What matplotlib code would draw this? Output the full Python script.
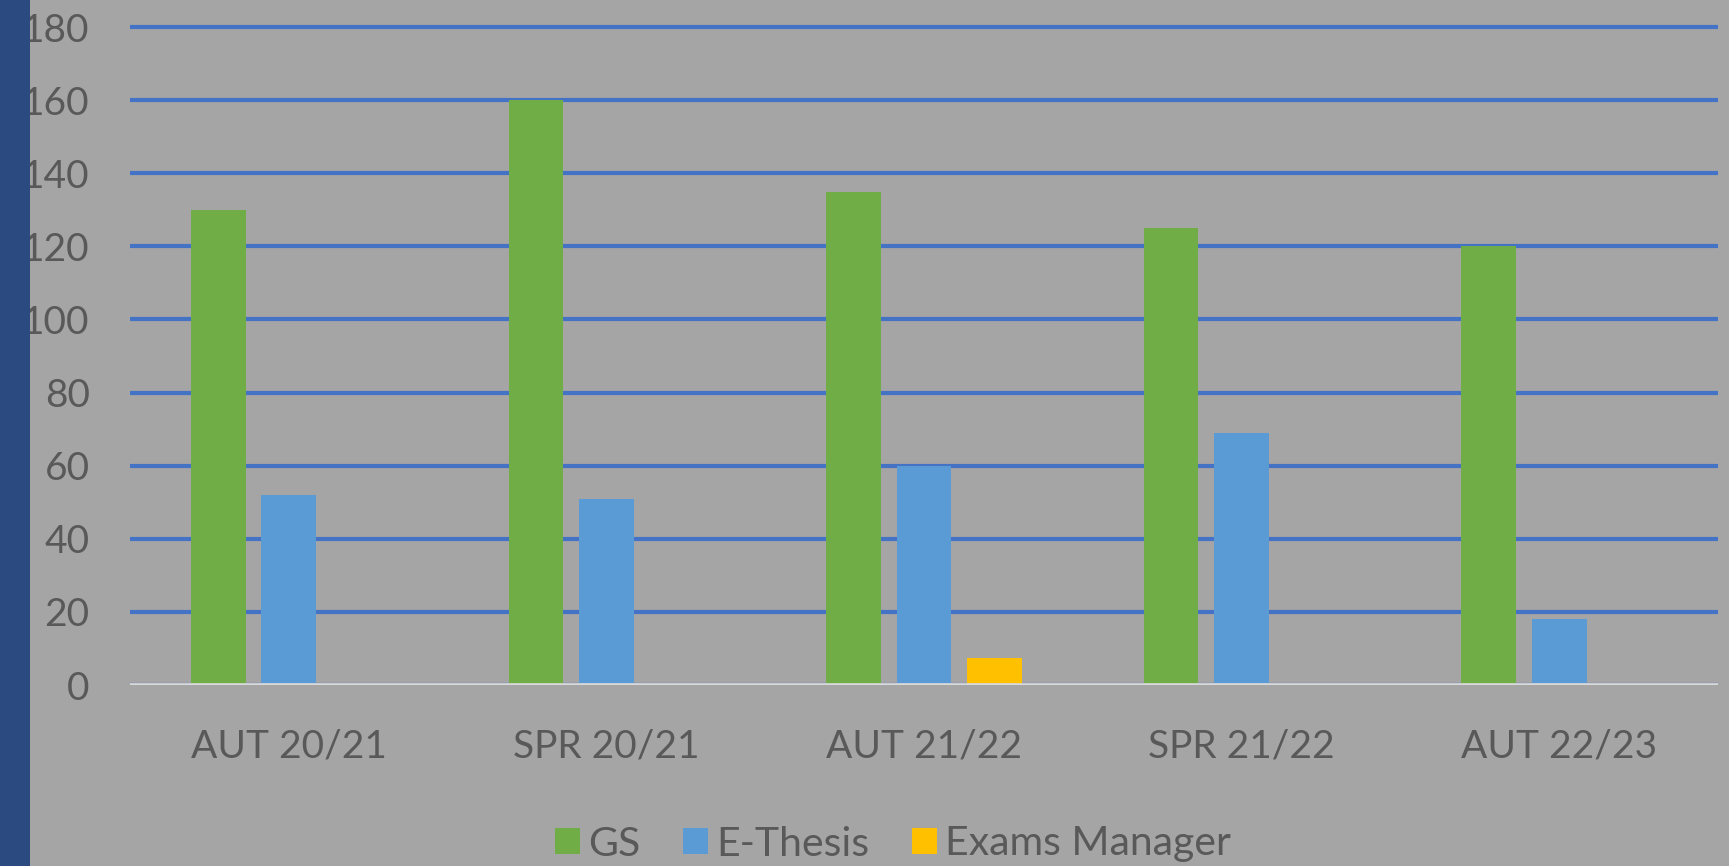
import matplotlib
matplotlib.use("Agg")
import matplotlib.pyplot as plt
import numpy as np
from matplotlib.patches import Rectangle

categories = ["AUT 20/21", "SPR 20/21", "AUT 21/22", "SPR 21/22", "AUT 22/23"]
series_names = ["GS", "E-Thesis", "Exams Manager"]
gs_values = [130, 160, 135, 125, 120]
ethesis_values = [52, 51, 60, 69, 18]
exams_values = [0, 0, 7.5, 0, 0]
y_ticks = [0, 20, 40, 60, 80, 100, 120, 140, 160, 180]

colors = ["#70ad47", "#5b9bd5", "#ffc000"]
bg = "#a5a5a5"
text_color = "#595959"

plt.rcParams['font.family'] = ['Lato', 'DejaVu Sans']

W, H = 1729, 866
fig = plt.figure(figsize=(W / 100, H / 100), dpi=100, facecolor=bg)

# left dark strip
fig.patches.append(Rectangle((0, 0), 30 / W, 1, transform=fig.transFigure,
                             facecolor="#2a4a80", edgecolor="none", zorder=0))

y0_px = 685.0
px_per_unit = (685.0 - 27.0) / 180.0
ytop = 185
top_px = y0_px - ytop * px_per_unit
left_px, right_px = 130, 1718
ax = fig.add_axes([left_px / W, 1 - y0_px / H, (right_px - left_px) / W, (y0_px - top_px) / H])
ax.set_facecolor(bg)

x = np.arange(len(categories))
offsets = [-0.222, 0.0, 0.222]
width = 0.172
for vals, off, col, name in zip([gs_values, ethesis_values, exams_values], offsets, colors, series_names):
    ax.bar(x + off, vals, width=width, color=col, label=name, zorder=2)

ax.set_xlim(-0.5, len(categories) - 0.5)
ax.set_ylim(0, ytop)
ax.set_yticks(y_ticks)
ax.set_xticks(x)
ax.set_xticklabels(categories)
ax.set_axisbelow(True)
ax.yaxis.grid(True, color="#4472c4", linewidth=3.0)
ax.xaxis.grid(False)
ax.axhline(0, color="#d9d9d9", linewidth=3.4, zorder=3)
for s in ax.spines.values():
    s.set_visible(False)
ax.tick_params(axis='y', length=0, pad=29, labelsize=28, labelcolor=text_color)
ax.tick_params(axis='x', length=0, pad=31, labelsize=28, labelcolor=text_color)

handles, labels = ax.get_legend_handles_labels()
leg = fig.legend(handles, labels, loc='center', bbox_to_anchor=(893 / W, 1 - 844 / H),
                 ncol=3, frameon=False, fontsize=29.5, handlelength=0.6, handleheight=0.6,
                 handletextpad=0.2, columnspacing=1.05, labelcolor=text_color)

fig.savefig("out.png", dpi=100, facecolor=bg)
